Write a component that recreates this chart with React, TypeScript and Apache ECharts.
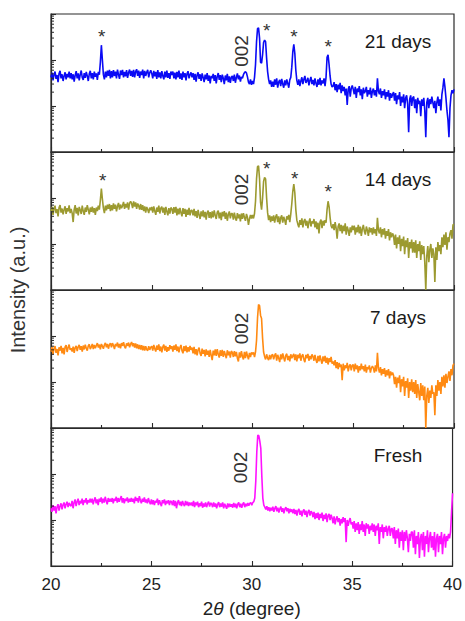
import { useEffect, useRef } from "react";
import * as echarts from "echarts";

// 2θ sampling grid: 20.00° … 40.00° in 0.05° steps (401 points)
const TWO_THETA = Array.from({ length: 401 }, (_, i) => +(20 + i * 0.05).toFixed(2));

// Intensities (counts), one row per degree, last value at 40.00°
const day21 = [
  /*20*/ 420,530,360,480,560,390,470,330,510,580,400,490,350,450,540,380,500,420,560,400,
  /*21*/ 520,380,490,340,470,570,400,510,360,480,590,420,370,520,410,550,450,350,500,580,
  /*22*/ 400,520,380,560,430,510,370,550,480,900,2100,1000,480,380,560,420,590,450,610,400,
  /*23*/ 570,420,600,450,560,400,620,480,390,590,470,610,420,550,440,600,410,530,620,450,
  /*24*/ 580,430,610,420,560,630,450,590,410,560,470,620,400,580,450,540,610,420,530,600,
  /*25*/ 510,400,580,440,550,390,600,420,540,400,570,450,380,560,420,590,410,520,390,560,
  /*26*/ 470,560,400,530,380,550,420,590,390,510,370,560,420,520,360,500,570,400,480,540,
  /*27*/ 420,520,370,500,340,470,540,390,490,350,510,420,330,480,380,520,350,460,310,450,
  /*28*/ 400,500,350,470,310,440,520,370,470,330,480,400,300,460,360,500,330,440,320,420,
  /*29*/ 450,350,480,320,420,510,380,460,340,430,400,480,530,560,520,430,330,300,380,290,
  /*30*/ 350,300,420,800,2500,4800,5000,3000,900,850,1300,2400,2700,2500,1100,560,380,300,360,260,
  /*31*/ 340,260,380,290,400,250,330,370,270,390,300,250,360,280,380,310,250,370,420,700,
  /*32*/ 1500,2200,1400,600,360,290,380,270,350,420,300,380,450,320,350,410,280,360,430,300,
  /*33*/ 370,280,400,310,260,380,290,410,280,360,310,400,270,420,1150,1300,800,450,300,260,
  /*34*/ 270,330,220,300,200,290,230,320,190,280,210,260,170,240,105,230,270,160,240,280,
  /*35*/ 230,180,260,150,240,200,270,170,230,140,250,190,210,260,160,220,180,250,150,210,
  /*36*/ 240,170,220,160,400,210,180,240,150,210,170,230,140,200,160,220,130,190,150,180,
  /*37*/ 200,130,190,110,170,140,200,100,160,120,180,90,150,170,110,27,140,170,100,150,
  /*38*/ 160,90,140,70,150,110,130,60,140,100,150,80,21,120,150,90,140,110,160,120,
  /*39*/ 90,130,70,120,160,100,140,80,180,250,400,260,150,80,50,21,90,170,220,190,
  /*40*/ 230,
];

const day14 = [
  /*20*/ 520,640,430,590,680,470,570,400,620,700,480,590,440,560,660,450,600,510,690,470,
  /*21*/ 580,470,300,560,700,460,610,420,640,550,450,680,520,430,620,500,700,560,440,620,
  /*22*/ 500,650,480,600,430,620,520,680,560,900,1600,950,600,470,680,540,720,580,740,520,
  /*23*/ 700,540,760,580,720,510,660,780,560,720,600,680,820,580,740,620,800,560,760,840,
  /*24*/ 760,600,840,650,800,580,760,680,560,740,550,700,520,660,480,640,560,470,620,540,
  /*25*/ 640,480,660,520,430,620,500,680,460,600,650,480,620,430,640,510,420,600,460,620,
  /*26*/ 580,450,630,480,640,420,590,440,610,480,400,600,450,580,390,560,430,610,420,540,
  /*27*/ 540,420,580,400,520,370,550,430,350,510,400,540,380,500,340,480,530,370,490,360,
  /*28*/ 510,380,540,420,350,490,530,360,480,330,500,400,520,350,480,320,440,510,360,460,
  /*29*/ 460,340,480,370,320,470,360,440,310,460,350,470,380,320,450,380,260,350,430,360,
  /*30*/ 430,360,460,850,2600,4800,5000,2600,800,560,1000,2300,2800,2600,1000,480,330,420,300,400,
  /*31*/ 320,420,290,390,440,300,400,270,370,420,290,390,330,260,400,340,430,300,450,750,
  /*32*/ 1400,2000,1300,560,330,270,230,330,260,360,230,310,350,250,320,220,300,360,240,310,
  /*33*/ 280,350,230,310,210,290,170,300,340,220,320,250,330,290,560,850,650,380,250,220,
  /*34*/ 270,200,300,220,130,240,280,190,260,170,250,190,280,160,240,200,150,230,180,250,
  /*35*/ 200,250,160,230,180,260,170,240,150,210,260,190,160,240,200,150,230,180,220,160,
  /*36*/ 230,170,210,150,370,200,170,230,140,210,160,220,130,190,150,210,120,180,140,170,
  /*37*/ 150,95,160,80,140,100,155,70,130,90,145,60,120,85,135,50,110,80,125,65,
  /*38*/ 110,65,120,50,100,70,115,45,95,60,90,40,10,55,90,40,75,100,50,80,
  /*39*/ 60,15,85,45,110,70,95,60,140,85,160,95,180,75,140,110,170,200,130,260,
  /*40*/ 270,
];

const day7 = [
  /*20*/ 460,580,400,540,600,430,520,380,570,480,610,420,550,400,580,630,450,560,650,500,
  /*21*/ 540,460,590,430,560,610,470,580,640,500,600,460,620,510,650,540,480,610,660,520,
  /*22*/ 580,670,520,640,540,620,700,560,650,510,670,600,530,640,710,570,670,530,650,700,
  /*23*/ 570,700,620,520,670,600,720,560,670,540,700,610,730,590,540,690,610,720,570,670,
  /*24*/ 740,600,700,560,690,540,660,520,640,510,630,490,610,480,600,510,480,600,500,570,
  /*25*/ 600,480,640,530,460,620,500,660,470,590,440,580,650,480,610,450,570,480,630,520,
  /*26*/ 600,460,620,500,660,470,590,440,560,640,480,420,600,470,620,440,570,460,610,500,
  /*27*/ 560,420,580,400,520,380,500,560,420,370,530,410,500,360,510,390,480,350,500,380,
  /*28*/ 300,480,380,510,370,520,400,340,490,370,500,350,470,390,330,490,380,460,340,470,
  /*29*/ 440,350,470,360,450,330,280,440,340,470,360,310,450,330,460,370,310,430,350,440,
  /*30*/ 400,440,350,450,800,2500,4800,4600,2800,2400,900,450,360,310,400,330,300,390,310,380,
  /*31*/ 400,310,380,420,290,390,330,270,400,310,420,340,280,380,410,300,370,280,400,330,
  /*32*/ 370,410,300,400,280,390,330,420,290,370,400,310,270,390,330,410,290,370,310,400,
  /*33*/ 360,290,390,300,260,370,280,380,300,250,360,280,370,260,340,240,330,270,350,250,
  /*34*/ 280,230,300,200,270,190,260,210,240,110,250,180,230,200,260,170,220,240,180,230,
  /*35*/ 240,170,250,190,230,160,220,180,250,190,220,170,240,160,210,190,230,160,200,220,
  /*36*/ 200,160,230,170,430,200,160,210,140,190,150,200,130,180,140,190,120,170,140,160,
  /*37*/ 140,90,130,75,125,95,140,60,115,80,130,50,105,75,120,45,100,65,115,60,
  /*38*/ 100,55,110,45,90,60,40,95,50,85,40,80,10,50,75,35,65,45,85,55,
  /*39*/ 60,19,85,50,110,65,100,55,130,80,140,75,150,95,130,170,105,190,140,230,
  /*40*/ 250,
];

const fresh = [
  /*20*/ 180,150,210,160,200,140,190,220,160,200,230,170,215,240,180,220,250,190,235,210,
  /*21*/ 200,260,180,240,280,200,250,290,210,260,230,290,210,270,240,300,220,270,240,290,
  /*22*/ 240,290,220,270,310,230,280,210,290,250,310,230,290,240,320,260,220,300,250,290,
  /*23*/ 250,300,230,290,260,320,240,300,250,290,330,240,300,230,290,260,310,240,290,250,
  /*24*/ 300,250,290,230,320,260,300,240,330,270,230,290,250,310,240,280,230,300,250,220,
  /*25*/ 280,220,270,210,260,240,290,210,270,230,200,270,230,280,210,260,230,270,210,260,
  /*26*/ 250,210,270,200,260,180,240,270,210,250,200,260,220,200,260,210,250,200,240,210,
  /*27*/ 240,200,260,190,240,210,250,190,230,200,250,185,230,195,240,190,225,250,195,235,
  /*28*/ 225,190,240,195,230,180,220,245,190,230,195,240,180,225,200,175,230,190,225,195,
  /*29*/ 220,185,235,190,225,180,220,240,190,225,185,220,240,190,225,200,235,205,230,240,
  /*30*/ 210,240,250,300,700,3000,7000,6800,5200,3600,900,300,210,190,170,200,160,190,155,185,
  /*31*/ 160,195,150,180,200,155,185,145,175,195,150,180,140,175,190,155,180,140,175,150,
  /*32*/ 170,140,175,135,165,125,160,175,130,160,120,155,170,130,160,115,150,165,125,155,
  /*33*/ 145,115,150,105,140,110,145,100,135,110,145,95,130,105,140,90,125,135,100,130,
  /*34*/ 110,85,120,80,105,120,90,110,75,105,85,115,90,110,33,100,75,95,110,80,
  /*35*/ 90,65,95,55,85,60,90,50,80,60,95,55,80,45,85,65,80,50,75,60,
  /*36*/ 85,55,80,45,75,60,85,30,70,55,80,40,70,55,75,45,65,75,45,65,
  /*37*/ 65,40,70,30,60,40,65,25,55,35,60,22,55,35,60,40,20,50,35,55,
  /*38*/ 55,25,60,18,45,30,55,15,40,50,22,55,16,45,30,60,20,40,55,25,
  /*39*/ 45,22,55,16,40,50,20,45,30,55,18,40,50,25,45,35,50,40,55,150,
  /*40*/ 380,
];

// Panel names, top to bottom
const PANEL_LABELS = ["21 days", "14 days", "7 days", "Fresh"];
const PANEL_COLORS = ["#0a0af5", "#9c9a30", "#ff8a12", "#ff12ff"];
const PANEL_DATA = [day21, day14, day7, fresh];

// Impurity reflections (*) as [2θ, intensity] for the aged samples
const STARS_21 = [[22.52, 3300], [30.7, 4300], [32.06, 3300], [33.76, 1950]];
const STARS_14 = [[22.57, 2450], [30.7, 4300], [32.09, 2600], [33.76, 1370]];
const STAR_SETS = [STARS_21, STARS_14, [], []];

// "002" reflection label anchor per panel: [2θ, intensity]
const LABEL_002 = [[29.43, 1570], [29.43, 1530], [29.43, 1455], [29.43, 1384]];

// X-axis tick labels
const X_TICKS = [20, 25, 30, 35, 40];

// Log-scale minor tick positions (2…9 within each decade)
const LOG_MINOR = [
  20, 30, 40, 50, 60, 70, 80, 90,
  200, 300, 400, 500, 600, 700, 800, 900,
  2000, 3000, 4000, 5000, 6000, 7000, 8000, 9000,
];

const FONT = "Liberation Sans, Arial, Helvetica, sans-serif";
const AXIS_COLOR = "#2a2a2a";

export default function App() {
  const ref = useRef<HTMLDivElement>(null);

  useEffect(() => {
    if (!ref.current) return;
    const chart = echarts.init(ref.current, undefined, { renderer: "svg" });

    const panelTop = [14, 152, 290, 428];
    const panelH = 138;

    const grid = panelTop.map((top) => ({
      left: 51,
      right: 11,
      top,
      height: panelH,
      show: true,
      borderColor: AXIS_COLOR,
      borderWidth: 1.2,
      backgroundColor: "transparent",
    }));

    const xAxis = panelTop.map((_, i) => {
      const last = i === panelTop.length - 1;
      return {
        type: "value",
        gridIndex: i,
        min: 20,
        max: 40,
        interval: 5,
        axisLine: { lineStyle: { color: AXIS_COLOR, width: 1.2 } },
        axisTick: { inside: true, length: 5, lineStyle: { color: AXIS_COLOR, width: 1.1 } },
        minorTick: { show: true, splitNumber: 2, length: 3, lineStyle: { color: AXIS_COLOR, width: 1.1 } },
        splitLine: { show: false },
        axisLabel: {
          show: last,
          fontFamily: FONT,
          fontSize: 17,
          color: "#222",
          margin: 10,
          formatter: (v: number) => (X_TICKS.includes(v) ? String(v) : ""),
        },
        name: last ? "2{i|θ} (degree)" : "",
        nameLocation: "middle",
        nameGap: 33,
        nameTextStyle: {
          fontFamily: FONT,
          fontSize: 19,
          color: "#222",
          rich: { i: { fontFamily: FONT, fontSize: 19, fontStyle: "italic", color: "#222" } },
        },
      };
    });

    const yAxis = panelTop.map((_, i) => ({
      type: "log",
      logBase: 10,
      gridIndex: i,
      min: 10,
      max: 10000,
      axisLine: { show: true, lineStyle: { color: AXIS_COLOR, width: 1.2 } },
      axisTick: { show: true, inside: true, length: 5, lineStyle: { color: AXIS_COLOR, width: 1.1 } },
      axisLabel: { show: false },
      splitLine: { show: false },
    }));

    const series: any[] = [];
    PANEL_DATA.forEach((vals, i) => {
      const markData: any[] = STAR_SETS[i].map(([x, v]) => ({
        coord: [x, v],
        label: { formatter: "*", fontSize: 19, color: "#333", fontFamily: FONT },
      }));
      markData.push({
        coord: LABEL_002[i],
        label: { formatter: "002", fontSize: 19, color: "#333", rotate: 90, fontFamily: FONT },
      });
      series.push({
        type: "line",
        xAxisIndex: i,
        yAxisIndex: i,
        data: TWO_THETA.map((x, j) => [x, vals[j]]).filter((p) => p[1] !== undefined),
        showSymbol: false,
        symbol: "none",
        clip: true,
        lineStyle: { color: PANEL_COLORS[i], width: 1.6 },
        markPoint: {
          symbol: "circle",
          symbolSize: 0,
          silent: true,
          label: { show: true, position: "inside" },
          data: markData,
        },
        z: 2,
      });
      series.push({
        type: "custom",
        xAxisIndex: i,
        yAxisIndex: i,
        silent: true,
        clip: false,
        data: LOG_MINOR.map((v) => [20, v]),
        renderItem: (_p: any, api: any) => {
          const pt = api.coord([api.value(0), api.value(1)]);
          return {
            type: "line",
            shape: { x1: pt[0], y1: pt[1], x2: pt[0] + 3, y2: pt[1] },
            style: { stroke: AXIS_COLOR, lineWidth: 1 },
          };
        },
        z: 3,
      });
    });

    const graphic: any[] = PANEL_LABELS.map((t, i) => ({
      type: "text",
      x: 398,
      y: panelTop[i] + 27,
      style: {
        text: t,
        fontFamily: FONT,
        fontSize: 19,
        fill: "#1a1a1a",
        textAlign: "center",
        textVerticalAlign: "middle",
      },
    }));
    graphic.push({
      type: "text",
      x: 18,
      y: 290,
      rotation: Math.PI / 2,
      style: {
        text: "Intensity (a.u.)",
        fontFamily: FONT,
        fontSize: 20,
        fill: "#333",
        textAlign: "center",
        textVerticalAlign: "middle",
      },
    });

    chart.setOption({
      animation: false,
      backgroundColor: "#ffffff",
      grid,
      xAxis,
      yAxis,
      series,
      graphic,
    });

    return () => chart.dispose();
  }, []);

  return (
    <div
      ref={ref}
      style={{ position: "fixed", left: 0, top: 0, width: 465, height: 621 }}
    />
  );
}
